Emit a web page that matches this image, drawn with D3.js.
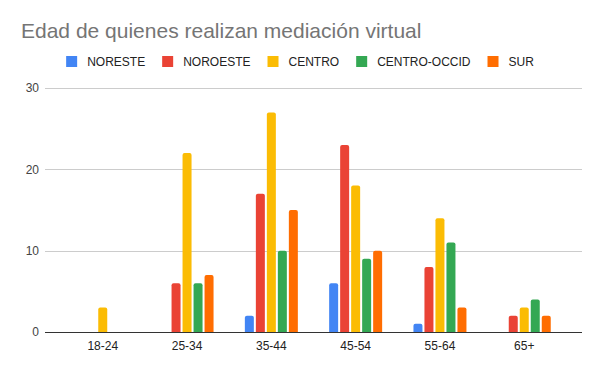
<!DOCTYPE html>
<html lang="es">
<head>
<meta charset="utf-8">
<title>Edad de quienes realizan mediación virtual</title>
<script src="https://cdn.jsdelivr.net/npm/d3@7"></script>
<style>
  body { margin: 0; background: #fff; }
  .title { font-family: "Liberation Sans", Arial, sans-serif; font-size: 21px; fill: #757575; }
  .legend_text { font-family: "Liberation Sans", Arial, sans-serif; font-size: 12px; fill: #222; }
  .tick text { font-family: "Liberation Sans", Arial, sans-serif; font-size: 12px; }
</style>
</head>
<body>
<div id="chart"></div>
<script>
// data
var ageGroups = ["18-24", "25-34", "35-44", "45-54", "55-64", "65+"];
var regions = ["NORESTE", "NOROESTE", "CENTRO", "CENTRO-OCCID", "SUR"];
var noreste     = [0, 0, 2, 6, 1, 0];
var noroeste    = [0, 6, 17, 23, 8, 2];
var centro      = [3, 22, 27, 18, 14, 3];
var centroOccid = [0, 6, 10, 9, 11, 4];
var sur         = [0, 7, 15, 10, 3, 2];
var yTicks = [0, 10, 20, 30];

var seriesValues = [noreste, noroeste, centro, centroOccid, sur];
var colors = ["#4285f4", "#ea4335", "#fbbc04", "#34a853", "#ff6d01"];

var width = 600, height = 371;
var plot = {left: 45, right: 582, top: 88, bottom: 332};

var svg = d3.select("#chart").append("svg")
  .attr("width", width).attr("height", height);

svg.append("text").attr("class", "title")
  .attr("x", 21).attr("y", 38)
  .text("Edad de quienes realizan mediación virtual");

var x = d3.scaleBand().domain(ageGroups)
  .range([plot.left, plot.right]).paddingOuter(0.185).paddingInner(0);
var y = d3.scaleLinear().domain([0, 30]).range([plot.bottom, plot.top]);

// gridlines
svg.append("g").selectAll("line").data(yTicks.filter(function(d){ return d > 0; }))
  .enter().append("line")
  .attr("x1", plot.left).attr("x2", plot.right)
  .attr("y1", function(d){ return Math.round(y(d)) + 0.5; })
  .attr("y2", function(d){ return Math.round(y(d)) + 0.5; })
  .attr("stroke", "#cccccc");

// y axis labels
var yAxis = svg.append("g")
  .attr("transform", "translate(" + (plot.left - 6) + ",0)")
  .call(d3.axisLeft(y).tickValues(yTicks).tickSize(0).tickPadding(0));
yAxis.select(".domain").remove();
yAxis.selectAll("text").attr("fill", "#444");

// bars
var barW = 9, barStep = 11;
var groupW = barStep * (regions.length - 1) + barW;
var rows = [];
ageGroups.forEach(function(g, i) {
  seriesValues.forEach(function(vals, s) {
    rows.push({group: g, s: s, value: vals[i]});
  });
});

function barPath(d) {
  var x0 = x(d.group) + x.bandwidth() / 2 - groupW / 2 + d.s * barStep;
  var y0 = y(d.value), y1 = y(0), r = Math.min(2, (y1 - y0) / 2);
  return "M" + x0 + "," + y1 + "V" + (y0 + r) +
    "Q" + x0 + "," + y0 + " " + (x0 + r) + "," + y0 +
    "H" + (x0 + barW - r) +
    "Q" + (x0 + barW) + "," + y0 + " " + (x0 + barW) + "," + (y0 + r) +
    "V" + y1 + "Z";
}

svg.append("g").selectAll("path")
  .data(rows.filter(function(d){ return d.value > 0; }))
  .enter().append("path")
  .attr("d", barPath)
  .attr("fill", function(d){ return colors[d.s]; });

// x axis
var xAxis = svg.append("g")
  .attr("transform", "translate(0," + plot.bottom + ")")
  .call(d3.axisBottom(x).tickSize(0).tickPadding(9));
xAxis.select(".domain").remove();
xAxis.selectAll("text").attr("fill", "#222");
svg.append("line")
  .attr("x1", plot.left).attr("x2", plot.right)
  .attr("y1", plot.bottom + 0.5).attr("y2", plot.bottom + 0.5)
  .attr("stroke", "#333");

// legend, centred on the page
var legend = svg.append("g");
var lx = 0;
regions.forEach(function(r, i) {
  var g = legend.append("g").attr("transform", "translate(" + lx + ",0)");
  g.append("rect").attr("y", 56).attr("width", 11).attr("height", 11).attr("fill", colors[i]);
  var t = g.append("text").attr("class", "legend_text")
    .attr("x", 21).attr("y", 66).text(r);
  lx += 21 + t.node().getComputedTextLength();
  if (i < regions.length - 1) lx += 17;
});
legend.attr("transform", "translate(" + (width - lx) / 2 + ",0)");
</script>
</body>
</html>
